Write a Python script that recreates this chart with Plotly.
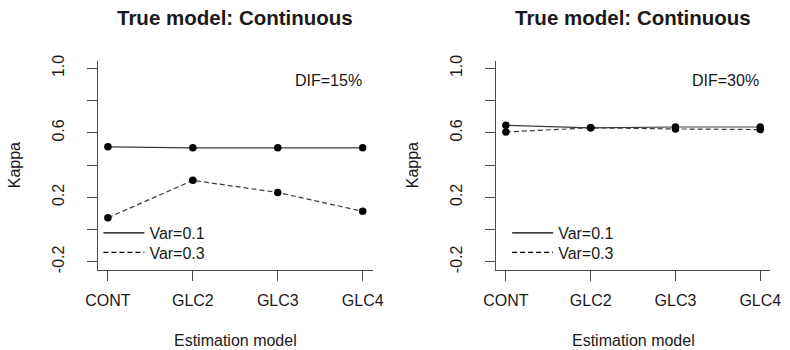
import plotly.graph_objects as go

# Estimation models on the x axis
models = ["CONT", "GLC2", "GLC3", "GLC4"]

# Kappa agreement, DIF = 15%
kappa_dif15_var01 = [0.513, 0.507, 0.507, 0.507]
kappa_dif15_var03 = [0.073, 0.305, 0.230, 0.113]

# Kappa agreement, DIF = 30%
kappa_dif30_var01 = [0.647, 0.631, 0.636, 0.636]
kappa_dif30_var03 = [0.605, 0.631, 0.624, 0.620]

series_names = ["Var=0.1", "Var=0.3"]
y_ticks = [-0.2, 0.2, 0.6, 1.0]
y_minor = [-0.2, 0.0, 0.2, 0.4, 0.6, 0.8, 1.0]

panel_title = "True model: Continuous"
panel_notes = ["DIF=15%", "DIF=30%"]
x_title = "Estimation model"
y_title = "Kappa"

FONT = "Liberation Sans, Arial, sans-serif"
INK = "#1a1a1a"
AXIS = "#4d4d4d"
LINE = "#3a3a3a"

W, H = 790, 350
x_domains = [(88.3 / W, 371.7 / W), (498.2 / W, 781.2 / W)]
y_domain = (1 - 270.5 / H, 1 - 56 / H)

fig = go.Figure()

panels = [
    (kappa_dif15_var01, kappa_dif15_var03),
    (kappa_dif30_var01, kappa_dif30_var03),
]
dashes = ["solid", "5px,3px"]

# one single-entry legend per key so each row sits where base R puts it
legend_ids = [["legend", "legend2"], ["legend3", "legend4"]]

for i, (s1, s2) in enumerate(panels):
    xa = "x" if i == 0 else "x2"
    ya = "y" if i == 0 else "y2"
    for vals, dash in zip((s1, s2), dashes):
        fig.add_trace(go.Scatter(
            x=models, y=vals, xaxis=xa, yaxis=ya,
            mode="lines+markers",
            line=dict(color=LINE, width=1.2, dash=dash),
            marker=dict(color="black", size=7.5),
            showlegend=False, hoverinfo="skip",
        ))
    # legend keys: line samples only, as in a base-R legend
    for dash, name, leg in zip(dashes, series_names, legend_ids[i]):
        fig.add_trace(go.Scatter(
            x=[None], y=[None], xaxis=xa, yaxis=ya,
            mode="lines", name=name,
            line=dict(color="black", width=1.1, dash=dash),
            legend=leg, showlegend=True,
        ))

axis_common = dict(
    showgrid=False, zeroline=False, showline=True,
    linecolor=AXIS, linewidth=1,
    ticks="outside", ticklen=10, tickwidth=1, tickcolor=AXIS,
    tickfont=dict(family=FONT, size=16, color=INK),
    mirror=False,
)

layout_axes = {}
for i in range(2):
    sx = "xaxis" if i == 0 else "xaxis2"
    sy = "yaxis" if i == 0 else "yaxis2"
    layout_axes[sx] = dict(
        axis_common, domain=list(x_domains[i]), anchor="y" if i == 0 else "y2",
        type="category", range=[-0.12, 3.12], ticklabelstandoff=6,
    )
    layout_axes[sy] = dict(
        axis_common, domain=list(y_domain), anchor="x" if i == 0 else "x2",
        range=[-0.248, 1.048], tickvals=y_minor,
        ticktext=[("%.1f" % v if v in y_ticks else "") for v in y_minor],
        tickangle=-90, ticklabelstandoff=16,
    )

annotations = []
for i in range(2):
    x0, x1 = x_domains[i]
    xc = (x0 + x1) / 2
    annotations.append(dict(
        text="<b>%s</b>" % panel_title, x=xc, y=1 - 12 / H,
        xref="paper", yref="paper", showarrow=False,
        font=dict(family=FONT, size=20.5, color=INK),
        xanchor="center", yanchor="middle",
    ))
    annotations.append(dict(
        text=x_title, x=xc, y=1 - 343 / H,
        xref="paper", yref="paper", showarrow=False,
        font=dict(family=FONT, size=16, color=INK),
        xanchor="center", yanchor="middle",
    ))
    annotations.append(dict(
        text=y_title, x=x0 - 86 / W, y=(y_domain[0] + y_domain[1]) / 2,
        xref="paper", yref="paper", showarrow=False, textangle=-90,
        font=dict(family=FONT, size=16, color=INK),
        xanchor="center", yanchor="middle",
    ))
    annotations.append(dict(
        text=panel_notes[i], x=x1, xshift=-9, y=1 - 76 / H,
        xref="paper", yref="paper", showarrow=False,
        font=dict(family=FONT, size=16, color=INK),
        xanchor="right", yanchor="middle",
    ))

legend_common = dict(
    bgcolor="rgba(0,0,0,0)", borderwidth=0,
    font=dict(family=FONT, size=16, color=INK),
    itemwidth=41, tracegroupgap=0,
    xanchor="left", yanchor="middle", orientation="v",
)

legend_x = [89, 510]
legend_rows = [233, 253]
legend_layout = {}
for i in range(2):
    for r, leg in enumerate(legend_ids[i]):
        legend_layout[leg] = dict(
            legend_common, x=legend_x[i] / W, y=1 - legend_rows[r] / H,
        )

fig.update_layout(
    width=W, height=H,
    margin=dict(l=0, r=0, t=0, b=0),
    paper_bgcolor="white", plot_bgcolor="white",
    annotations=annotations,
    **legend_layout,
    **layout_axes,
)

fig.write_html("out.html")
